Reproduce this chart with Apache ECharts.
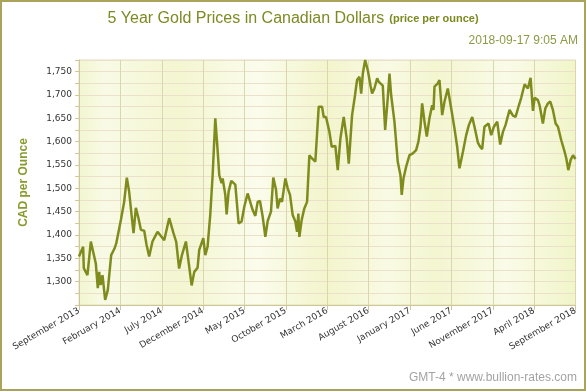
<!DOCTYPE html>
<html><head><meta charset="utf-8">
<script src="https://cdn.jsdelivr.net/npm/echarts@6/dist/echarts.min.js"></script>
<style>html,body{margin:0;padding:0;background:#fff}#c{width:586px;height:391px}</style>
</head><body><div id="c"></div>
<script>
const titleMain = '5 Year Gold Prices in Canadian Dollars';
const titleSub = '(price per ounce)';
const stamp = '2018-09-17 9:05 AM';
const footer = 'GMT-4 * www.bullion-rates.com';
const yAxisName = 'CAD per Ounce';
const tickLabels = ['September 2013','February 2014','July 2014','December 2014','May 2015','October 2015','March 2016','August 2016','January 2017','June 2017','November 2017','April 2018','September 2018'];
// months since September 2013
const monthOffsets = [0,0.5,0.58,1.02,1.43,1.75,2.03,2.27,2.44,2.6,2.84,3.16,3.48,3.89,4.29,4.5,5.06,5.46,5.78,6.06,6.31,6.59,6.87,7.19,7.48,7.88,8.16,8.48,8.88,9.17,9.49,9.8,10.3,10.9,11.4,11.75,12.1,12.44,12.92,13.24,13.61,13.93,14.33,14.53,15.02,15.26,15.54,15.86,16.15,16.47,16.75,16.95,17.23,17.36,17.68,17.84,18.08,18.4,18.89,19.29,19.65,19.98,20.38,20.98,21.31,21.59,21.87,22.2,22.52,22.8,23.2,23.48,23.81,24.0,24.29,24.53,24.94,25.22,25.5,25.82,26.15,26.35,26.51,26.63,26.91,27.23,27.56,27.84,28.16,28.56,28.97,29.37,29.57,29.85,30.26,30.54,30.98,31.27,31.59,31.99,32.35,32.6,33.0,33.36,33.6,33.89,34.1,34.3,34.58,34.9,35.22,35.42,35.7,36.03,36.23,36.71,37.0,37.31,37.52,37.72,38.12,38.52,38.85,39.0,39.21,39.53,39.73,39.94,40.35,40.74,41.02,41.27,41.47,41.75,42.03,42.35,42.68,42.84,42.96,43.36,43.56,43.89,44.17,44.57,44.98,45.38,45.7,45.98,46.39,46.79,47.12,47.52,47.88,48.2,48.48,48.72,49.0,49.49,49.81,50.14,50.54,50.9,51.23,51.55,52.03,52.44,52.76,53.16,53.44,53.85,54.25,54.57,54.86,55.06,55.46,55.66,55.86,56.06,56.35,56.67,56.95,57.27,57.6,57.88,58.28,58.69,58.89,59.13,59.42,59.7,60];
const prices = [1354,1375,1329,1314,1386,1361,1339,1286,1321,1293,1314,1261,1282,1357,1371,1382,1432,1471,1523,1493,1450,1404,1458,1436,1411,1409,1379,1354,1386,1396,1407,1400,1389,1436,1405,1385,1328,1357,1386,1343,1292,1321,1330,1368,1393,1357,1375,1443,1528,1650,1582,1528,1511,1521,1486,1444,1493,1516,1508,1425,1429,1461,1489,1454,1441,1471,1473,1439,1396,1430,1450,1523,1497,1457,1478,1471,1521,1500,1486,1443,1429,1407,1446,1396,1432,1457,1471,1571,1564,1557,1675,1675,1653,1653,1621,1589,1591,1539,1607,1653,1607,1553,1657,1700,1732,1739,1703,1746,1775,1753,1721,1703,1714,1736,1728,1720,1625,1693,1746,1700,1643,1557,1528,1486,1521,1546,1550,1571,1575,1582,1600,1632,1682,1643,1611,1650,1678,1668,1718,1725,1732,1657,1686,1714,1671,1628,1589,1543,1578,1614,1636,1653,1625,1598,1589,1584,1632,1639,1614,1632,1643,1594,1621,1636,1668,1656,1653,1678,1694,1723,1714,1737,1666,1694,1689,1678,1682,1639,1671,1682,1686,1668,1639,1632,1603,1578,1564,1539,1561,1571,1563];

const chart = echarts.init(document.getElementById('c'), null, {renderer: 'canvas'});
const olive = '#7f8c1d';
const axisCol = '#cdc894';
chart.setOption({
  animation: false,
  backgroundColor: '#ffffff',
  title: {
    text: '{a|' + titleMain + '} {b|' + titleSub + '}',
    left: 'center', top: 5,
    textStyle: {
      fontWeight: 'normal',
      rich: {
        a: {fontFamily: 'Liberation Sans, Arial', fontSize: 16, fontWeight: 'normal', color: '#7d8a22'},
        b: {fontFamily: 'Liberation Sans, Arial', fontSize: 11, fontWeight: 'bold', color: '#7d8a22'}
      }
    }
  },
  graphic: [
    {type: 'rect', shape: {x: 1, y: 1, width: 584, height: 389}, style: {fill: 'none', stroke: '#a9a35c', lineWidth: 2}, silent: true, z: 100},
    {type: 'text', right: 8, top: 35, style: {text: stamp, font: '12px "Liberation Sans", Arial', fill: '#8d9a45'}},
    {type: 'text', right: 9, top: 372, style: {text: footer, font: '12px "Liberation Sans", Arial', fill: '#a3a3a3'}}
  ],
  grid: {
    left: 79, right: 10.5, top: 60, bottom: 86,
    show: true,
    borderColor: '#e3dbc2', borderWidth: 1,
    backgroundColor: new echarts.graphic.LinearGradient(0, 0, 1, 0, [
      {offset: 0, color: '#f2f6cf'},
      {offset: 0.05, color: '#f9fae6'},
      {offset: 0.2, color: '#f3f6d0'},
      {offset: 0.36, color: '#fbfcec'},
      {offset: 0.5, color: '#f2f5cc'},
      {offset: 0.62, color: '#f9fae4'},
      {offset: 0.72, color: '#f3f6d0'},
      {offset: 0.86, color: '#fafbe8'},
      {offset: 1, color: '#f1f5c9'}
    ])
  },
  xAxis: {
    type: 'value', min: 0, max: 60, interval: 5,
    axisLine: {show: true, lineStyle: {color: axisCol}},
    axisTick: {show: true, length: 5, lineStyle: {color: axisCol}},
    splitLine: {show: true, lineStyle: {color: '#dcd6ad', width: 1}},
    axisLabel: {
      rotate: 30, margin: 5, fontSize: 9, fontFamily: 'DejaVu Sans', color: '#333',
      formatter: v => tickLabels[Math.round(v / 5)] || ''
    }
  },
  yAxis: {
    type: 'value', min: 1250, max: 1775, interval: 25,
    name: yAxisName, nameLocation: 'middle', nameGap: 49,
    nameTextStyle: {fontFamily: 'Liberation Sans, Arial', fontWeight: 'bold', fontSize: 12, color: '#8a9a2e'},
    axisLine: {show: true, lineStyle: {color: axisCol}},
    axisTick: {show: true, length: 4, lineStyle: {color: axisCol}},
    splitLine: {show: true, lineStyle: {color: '#ebe0c9', width: 1}},
    axisLabel: {
      margin: 7, fontSize: 9, fontFamily: 'DejaVu Sans', color: '#333',
      formatter: v => (v % 50 === 0 && v > 1250 && v < 1775) ? v.toLocaleString('en-US') : ''
    }
  },
  series: [{
    type: 'line',
    data: monthOffsets.map((m, i) => [m, prices[i]]),
    showSymbol: false, symbol: 'none',
    lineStyle: {color: olive, width: 2.5},
    clip: true
  }]
});
</script></body></html>
